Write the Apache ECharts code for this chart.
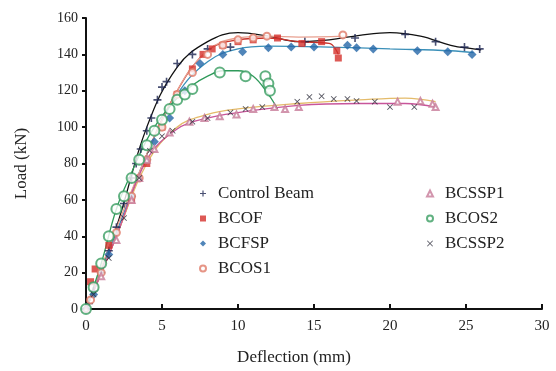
<!DOCTYPE html>
<html>
<head>
<meta charset="utf-8">
<script src="https://cdn.jsdelivr.net/npm/echarts@6/dist/echarts.min.js"></script>
<style>
  html, body { margin: 0; padding: 0; background: #fff; }
  #chart { width: 556px; height: 371px; }
</style>
</head>
<body>
<div id="chart"></div>
<script>
// measured points (deflection mm, load kN)
const controlBeam = [[0.2,3],[0.5,10],[1,20],[1.5,32],[2,45],[2.5,58],[3,72],[3.3,80],[3.6,88],[4,98],[4.3,105],[4.7,115],[5,122],[5.3,125],[6,135],[7,140],[8,143],[9.5,144],[14.4,147],[17.7,149],[21,151],[23,147],[24.9,144],[25.9,143]];
const bcof = [[0.3,15],[0.6,22],[1.5,35],[3,60],[4,80],[5,100],[6,118],[7,132],[7.7,140],[8.3,143],[9,145],[10,147],[11,148],[12.6,149],[14.2,146],[15.5,147],[16.5,142],[16.6,138]];
const bcfsp = [[0,0],[0.5,8],[1.5,30],[3,62],[4,82],[4.5,92],[5.5,105],[6.5,120],[7.5,135],[9,140],[10.3,141.5],[12,143.7],[13.5,144],[15,144],[17.2,145],[17.8,143.7],[18.9,143],[21.8,142],[23.8,141.5],[25.4,140]];
const bcos1 = [[0.3,5],[1,20],[2,42],[3,62],[3.5,72],[4,82],[5,100],[6,118],[7,130],[8,140],[9,145],[10,148],[11,149],[11.9,150],[16.9,150.7]];
const bcssp1 = [[0,0],[1,18],[2,38],[3,60],[3.5,72],[4,82],[4.5,88],[5.5,97],[6.8,103],[7.8,105],[8.8,106],[9.9,107],[11,110],[12.4,111],[13.1,110],[14,111],[20.5,114],[22,114.4],[22.8,112.8],[23,111]];
const bcos2 = [[0,0],[0.5,12],[1,25],[1.5,40],[2,55],[2.5,62],[3,72],[3.5,82],[4,90],[4.5,98],[5,104],[5.5,110],[6,115],[6.5,118],[7,121],[8.8,130],[10.5,128],[11.8,128],[12,124],[12.1,120]];
const bcssp2 = [[0.5,8],[1.5,28],[2.5,50],[3.5,72],[4.2,87],[5,95],[5.7,98],[7,103],[8,105],[9.5,108],[10.5,110],[11.6,111],[13.9,114],[14.7,116.6],[15.5,117],[16.3,115.5],[17.2,115.5],[17.8,114.4],[19,114],[20,111],[21.6,111]];

// trend curves
const controlFit = [[0,0],[2,45],[4,100],[6,133],[8,147],[10,152],[12,150],[14,147],[16,148],[18,150.5],[20,152],[22,150],[24,145],[25.5,143],[26,142.5]];
const bcofFit = [[0,0],[2,40],[4,85],[6,120],[8,142],[10,148],[12,149],[14,147],[16,146],[16.6,140]];
const bcfspFit = [[0,0],[2,42],[4,85],[6,118],[8,136],[10,143],[12,144.5],[16,144],[20,143],[24,142],[25.5,141]];
const bcos1Fit = [[0,0],[3,65],[6,120],[8,142],[10,149],[12,150],[14,149.5],[17,150]];
const bcos2Fit = [[0,0],[1,25],[2,55],[3,75],[4,93],[5,106],[6,116],[7,123],[8,128],[9,131],[10,131],[11,128],[12,118],[12.6,110]];
const bcssp1Fit = [[0,0],[2,40],[4,80],[6,100],[8,107],[10,110],[14,113],[18,115],[21,116],[23,114]];
const bcssp2Fit = [[0,0],[2,40],[4,82],[6,99],[8,105],[10,108],[14,112],[18,113],[21,113],[23,111]];

const xTicks = [0, 5, 10, 15, 20, 25, 30];
const yTicks = [0, 20, 40, 60, 80, 100, 120, 140, 160];

const PLUS = 'path://M4,0H6V4H10V6H6V10H4V6H0V4H4Z';
const CROSS = 'path://M1,0L5,4L9,0L10,1L6,5L10,9L9,10L5,6L1,10L0,9L4,5L0,1Z';
const FONT = 'Liberation Serif';

const specs = [
  { name: 'Control Beam', pts: controlBeam, fit: controlFit, symbol: PLUS, size: 8, color: '#1c2450', line: '#111111' },
  { name: 'BCOF', pts: bcof, fit: bcofFit, symbol: 'rect', size: 7, color: '#d5302a', line: '#c8322a' },
  { name: 'BCFSP', pts: bcfsp, fit: bcfspFit, symbol: 'diamond', size: 9, color: '#2466a8', line: '#3a8fb8' },
  { name: 'BCOS1', pts: bcos1, fit: bcos1Fit, symbol: 'emptyCircle', size: 7, color: '#e07a68', line: '#e8a090' },
  { name: 'BCSSP1', pts: bcssp1, fit: bcssp1Fit, symbol: 'emptyTriangle', size: 6, color: '#c77a98', line: '#e4bb6a' },
  { name: 'BCOS2', pts: bcos2, fit: bcos2Fit, symbol: 'emptyCircle', size: 10, color: '#3a9e62', line: '#2f9a5a' },
  { name: 'BCSSP2', pts: bcssp2, fit: bcssp2Fit, symbol: CROSS, size: 6, color: '#2a2a38', line: '#c8559a' }
];

const series = [];
specs.forEach(s => {
  series.push({
    name: s.name + ' fit', type: 'line', data: s.fit, smooth: 0.4,
    showSymbol: false, symbol: 'none', silent: true, z: 2,
    lineStyle: { color: s.line, width: 1.3 }
  });
});
specs.forEach(s => {
  series.push({
    name: s.name, type: 'scatter', data: s.pts,
    symbol: s.symbol, symbolSize: s.size, z: 3,
    itemStyle: { color: s.color, borderColor: s.color, borderWidth: s.symbol.startsWith('empty') ? 1.5 : 0 }
  });
});

const legendBase = {
  orient: 'vertical', itemWidth: 6, itemHeight: 6, itemGap: 8,
  textStyle: { fontFamily: FONT, fontSize: 17, color: '#222', padding: [0, 0, 0, 7] }
};

const chart = echarts.init(document.getElementById('chart'), null, { renderer: 'canvas' });
chart.setOption({
  animation: false,
  backgroundColor: '#fff',
  grid: { left: 86, right: 14, top: 18, bottom: 58 },
  legend: [
    Object.assign({ left: 194, top: 180, data: ['Control Beam', 'BCOF', 'BCFSP', 'BCOS1'] }, legendBase),
    Object.assign({ left: 421, top: 180, data: ['BCSSP1', 'BCOS2', 'BCSSP2'] }, legendBase)
  ],
  xAxis: {
    type: 'value', min: xTicks[0], max: xTicks[xTicks.length - 1], interval: 5,
    name: 'Deflection (mm)', nameLocation: 'middle', nameGap: 40,
    nameTextStyle: { fontFamily: FONT, fontSize: 17, color: '#222', padding: [0, 40, 0, 0] },
    axisLine: { lineStyle: { color: '#111', width: 2 } },
    axisTick: { inside: true, length: 5, lineStyle: { color: '#111', width: 2 } },
    axisLabel: { fontFamily: FONT, fontSize: 15, color: '#222', margin: 10 },
    splitLine: { show: false }
  },
  yAxis: {
    type: 'value', min: yTicks[0], max: yTicks[yTicks.length - 1], interval: 20,
    name: 'Load (kN)', nameLocation: 'middle', nameGap: 56, nameRotate: 90,
    nameTextStyle: { fontFamily: FONT, fontSize: 17, color: '#222' },
    axisLine: { show: true, lineStyle: { color: '#111', width: 2 } },
    axisTick: { show: true, length: 4, lineStyle: { color: '#111', width: 2 } },
    axisLabel: { fontFamily: FONT, fontSize: 14, color: '#222', margin: 8 },
    splitLine: { show: false }
  },
  series: series
});
</script>
</body>
</html>
